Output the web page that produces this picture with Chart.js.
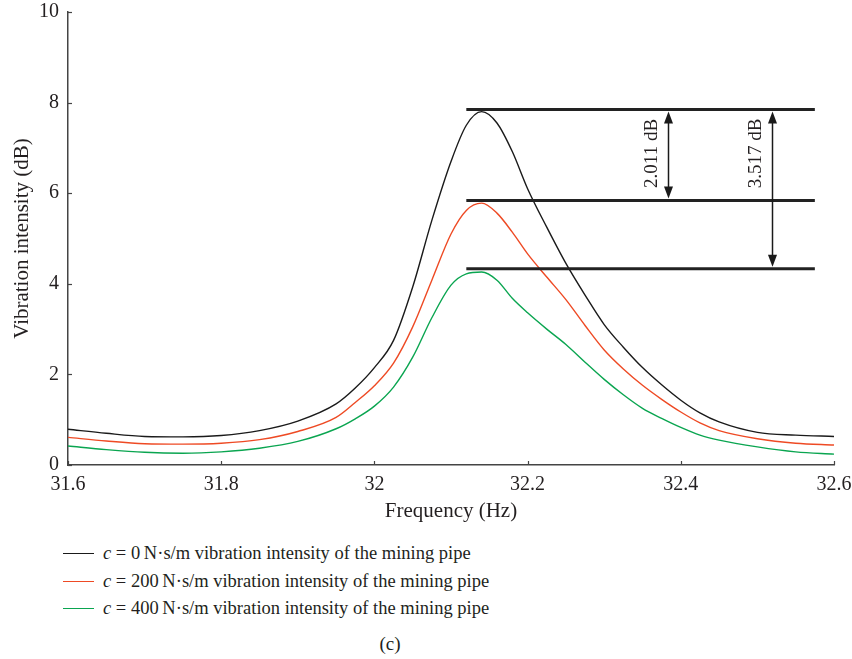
<!DOCTYPE html>
<html>
<head>
<meta charset="utf-8">
<title>Vibration intensity</title>
<script src="https://cdn.jsdelivr.net/npm/chart.js@4.4.0/dist/chart.umd.min.js"></script>
<style>
    body { margin: 0; background: #fff; }
    #wrap { position: relative; width: 852px; height: 659px; font-family: 'Liberation Serif', 'DejaVu Serif', serif; color: #231f20; }
    #chartBox { position: absolute; left: 0; top: 0; width: 852px; height: 530px; }
    .legend-row { position: absolute; left: 63px; height: 20px; font-size: 18.5px; line-height: 20px; white-space: nowrap; }
    .legend-row .swatch { display: inline-block; width: 31px; height: 0; border-top: 1.5px solid; vertical-align: middle; margin-right: 9px; margin-top: -2px; }
    #caption { position: absolute; left: 0; width: 780px; text-align: center; top: 633px; font-size: 19px; }
</style>
</head>
<body>
<div id="wrap">
    <div id="chartBox"><canvas id="vibChart"></canvas></div>
    <div id="legend"></div>
    <div id="caption">(c)</div>
</div>
<script>
// Frequency (Hz)
const freq = [31.6, 31.65, 31.7, 31.75, 31.8, 31.85, 31.9, 31.95, 31.975, 32.0, 32.025, 32.05, 32.075, 32.1, 32.12,
              32.14, 32.16, 32.18, 32.2, 32.225, 32.25, 32.275, 32.3, 32.325, 32.35, 32.375, 32.4, 32.425, 32.45,
              32.5, 32.55, 32.6];

// Vibration intensity (dB) for each damping value
const c0 = [0.79, 0.70, 0.63, 0.62, 0.65, 0.76, 0.97, 1.35, 1.70, 2.15, 2.75, 3.93, 5.40, 6.70, 7.50,
            7.80, 7.55, 6.92, 6.10, 5.25, 4.45, 3.75, 3.10, 2.60, 2.15, 1.77, 1.43, 1.15, 0.95,
            0.72, 0.66, 0.63];
const c200 = [0.61, 0.53, 0.47, 0.46, 0.48, 0.56, 0.74, 1.05, 1.38, 1.75, 2.25, 3.05, 4.08, 5.10, 5.62,
              5.78, 5.56, 5.14, 4.66, 4.15, 3.65, 3.08, 2.54, 2.12, 1.76, 1.45, 1.17, 0.93, 0.76,
              0.58, 0.48, 0.44];
const c400 = [0.42, 0.34, 0.28, 0.26, 0.29, 0.37, 0.52, 0.80, 1.02, 1.30, 1.72, 2.38, 3.25, 3.97, 4.22,
              4.26, 4.08, 3.68, 3.36, 3.00, 2.66, 2.27, 1.89, 1.55, 1.25, 1.03, 0.83, 0.66, 0.55,
              0.40, 0.29, 0.24];

const xTicks = [31.6, 31.8, 32.0, 32.2, 32.4, 32.6];
const xTickLabels = ['31.6', '31.8', '32', '32.2', '32.4', '32.6'];
const yTicks = [0, 2, 4, 6, 8, 10];

// Peak reference levels and the differences marked on the chart
const peakLevels = [7.85, 5.84, 4.33];
const diffLabels = ['2.011 dB', '3.517 dB'];
const levelSpan = [32.12, 32.575];
const arrowFreq = [32.383, 32.519];

const legendNames = [
    '<i>c</i> = 0\u2009N·s/m vibration intensity of the mining pipe',
    '<i>c</i> = 200\u2009N·s/m vibration intensity of the mining pipe',
    '<i>c</i> = 400\u2009N·s/m vibration intensity of the mining pipe'
];
const seriesColors = ['#1a1a1a', '#ee4a24', '#0aa550'];

const serif = "'Liberation Serif', 'DejaVu Serif', serif";
const ink = '#231f20';

function toPoints(values) {
    return freq.map((f, i) => ({ x: f, y: values[i] }));
}

// Inward tick marks on both axes
const innerTicks = {
    id: 'innerTicks',
    afterDraw(chart) {
        const ctx = chart.ctx;
        const xs = chart.scales.x, ys = chart.scales.y;
        ctx.save();
        ctx.strokeStyle = '#444';
        ctx.lineWidth = 1.2;
        xTicks.forEach(v => {
            const px = Math.round(xs.getPixelForValue(v)) + 0.5;
            ctx.beginPath();
            ctx.moveTo(px, ys.bottom);
            ctx.lineTo(px, ys.bottom - 4);
            ctx.stroke();
        });
        yTicks.forEach(v => {
            const py = Math.round(ys.getPixelForValue(v)) + 0.5;
            ctx.beginPath();
            ctx.moveTo(xs.left, py);
            ctx.lineTo(xs.left + 4, py);
            ctx.stroke();
        });
        ctx.restore();
    }
};

function arrowHead(ctx, x, y, dir) {
    ctx.beginPath();
    ctx.moveTo(x, y);
    ctx.lineTo(x - 4.5, y + dir * 12);
    ctx.lineTo(x + 4.5, y + dir * 12);
    ctx.closePath();
    ctx.fill();
}

// Peak level lines, difference arrows and labels
const peakMarks = {
    id: 'peakMarks',
    afterDatasetsDraw(chart) {
        const ctx = chart.ctx;
        const xs = chart.scales.x, ys = chart.scales.y;
        const x0 = xs.getPixelForValue(levelSpan[0]);
        const x1 = xs.getPixelForValue(levelSpan[1]);
        const levelPx = peakLevels.map(v => ys.getPixelForValue(v));
        ctx.save();
        ctx.strokeStyle = '#222';
        ctx.lineWidth = 3;
        levelPx.forEach(py => {
            ctx.beginPath();
            ctx.moveTo(x0, py);
            ctx.lineTo(x1, py);
            ctx.stroke();
        });
        ctx.fillStyle = '#1a1a1a';
        ctx.strokeStyle = '#1a1a1a';
        ctx.lineWidth = 1.5;
        arrowFreq.forEach((f, i) => {
            const ax = Math.round(xs.getPixelForValue(f)) + 0.5;
            const top = levelPx[0] + 2;
            const bot = levelPx[i + 1] - 2;
            ctx.beginPath();
            ctx.moveTo(ax, top + 10);
            ctx.lineTo(ax, bot - 10);
            ctx.stroke();
            arrowHead(ctx, ax, top, 1);
            arrowHead(ctx, ax, bot, -1);

            ctx.save();
            ctx.translate(ax - 16, levelPx[0] + 44);
            ctx.rotate(-Math.PI / 2);
            ctx.font = '19px ' + serif;
            ctx.fillStyle = ink;
            ctx.textAlign = 'center';
            ctx.textBaseline = 'middle';
            ctx.fillText(diffLabels[i], 0, 0);
            ctx.restore();
        });
        ctx.restore();
    }
};

function initVibrationChart() {
    const ctx = document.getElementById('vibChart');
    const sets = [c0, c200, c400];

    new Chart(ctx, {
        type: 'line',
        data: {
            datasets: sets.map((vals, i) => ({
                data: toPoints(vals),
                borderColor: seriesColors[i],
                borderWidth: 1.4,
                pointRadius: 0,
                fill: false,
                cubicInterpolationMode: 'monotone'
            }))
        },
        options: {
            responsive: true,
            maintainAspectRatio: false,
            animation: false,
            layout: { padding: { top: 12, right: 18, left: 0, bottom: 0 } },
            plugins: {
                legend: { display: false },
                tooltip: { enabled: false }
            },
            scales: {
                x: {
                    type: 'linear',
                    min: 31.6,
                    max: 32.6,
                    afterBuildTicks: scale => { scale.ticks = xTicks.map(v => ({ value: v })); },
                    afterFit: scale => {
                        scale.height = 65;
                        scale.paddingLeft = 0;
                        scale.paddingRight = 0;
                    },
                    grid: { display: false, drawTicks: false },
                    border: { display: true, color: '#444', width: 1.5 },
                    ticks: {
                        padding: 8,
                        color: ink,
                        font: { family: serif, size: 20 },
                        maxRotation: 0,
                        callback: (v, i) => xTickLabels[i]
                    },
                    title: {
                        display: true,
                        text: 'Frequency (Hz)',
                        color: ink,
                        font: { family: serif, size: 21 },
                        padding: { top: 0, bottom: 6 }
                    }
                },
                y: {
                    min: 0,
                    max: 10,
                    afterBuildTicks: scale => { scale.ticks = yTicks.map(v => ({ value: v })); },
                    afterFit: scale => {
                        scale.width = 68;
                        scale.paddingTop = 0;
                        scale.paddingBottom = 0;
                    },
                    grid: { display: false, drawTicks: false },
                    border: { display: true, color: '#444', width: 1.5 },
                    ticks: {
                        padding: 9,
                        color: ink,
                        font: { family: serif, size: 20 },
                        callback: v => String(v)
                    },
                    title: {
                        display: true,
                        text: 'Vibration intensity (dB)',
                        color: ink,
                        font: { family: serif, size: 21 },
                        padding: { top: 10, bottom: 0 }
                    }
                }
            }
        },
        plugins: [innerTicks, peakMarks]
    });
}

function buildLegend() {
    const box = document.getElementById('legend');
    const rowY = [553, 581, 608];
    legendNames.forEach((name, i) => {
        const row = document.createElement('div');
        row.className = 'legend-row';
        row.style.top = (rowY[i] - 10) + 'px';
        row.innerHTML = '<span class="swatch" style="border-color:' + seriesColors[i] + '"></span>' + name;
        box.appendChild(row);
    });
}

document.addEventListener('DOMContentLoaded', function() {
    initVibrationChart();
    buildLegend();
});
</script>
</body>
</html>
